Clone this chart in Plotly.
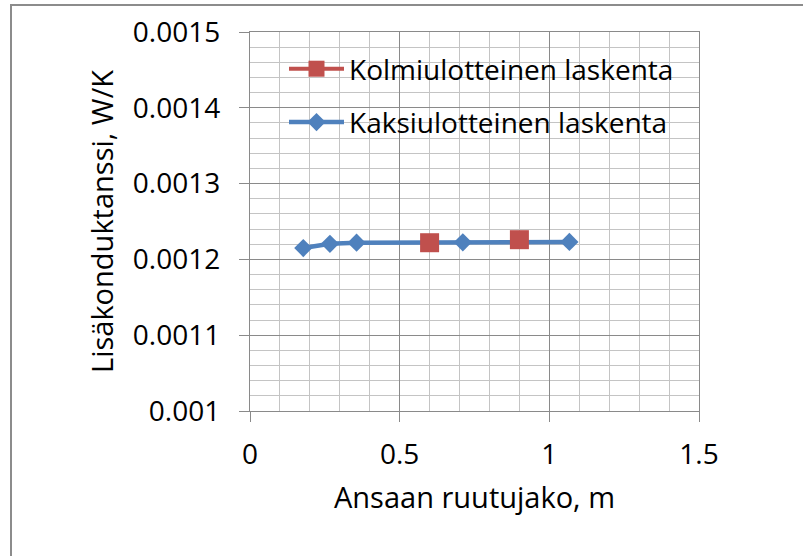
import plotly.graph_objects as go

# Data
x_2d = [0.178, 0.267, 0.356, 0.711, 1.067]
y_2d = [0.001215, 0.0012205, 0.001222, 0.0012225, 0.001223]
x_3d = [0.6, 0.9]
y_3d = [0.001222, 0.001226]

name_3d = "Kolmiulotteinen laskenta"
name_2d = "Kaksiulotteinen laskenta"

x_ticks = [0, 0.5, 1, 1.5]
x_ticklabels = ["0", "0.5", "1", "1.5"]
y_ticks = [0.001, 0.0011, 0.0012, 0.0013, 0.0014, 0.0015]
y_ticklabels = ["0.001", "0.0011", "0.0012", "0.0013", "0.0014", "0.0015"]

BLUE = "#4F81BD"
RED = "#C0504D"
FONT = "Open Sans"
MAJOR = "#8a8a8a"
MINOR = "#c4c4c4"

# plot area in page pixels
PL, PR, PT, PB = 250, 699, 32, 411
W, H = 803, 556
PW, PH = PR - PL, PB - PT


def px(x):
    return (x - PL) / PW


def py(y):
    return (PB - y) / PH


fig = go.Figure()

fig.add_trace(go.Scatter(
    x=[None], y=[None], name=name_3d, mode="lines+markers",
    line=dict(color=RED, width=4),
    marker=dict(symbol="square", size=19, color=RED),
    legendgroup="a", showlegend=True,
))
fig.add_trace(go.Scatter(
    x=x_2d, y=y_2d, name=name_2d, mode="lines+markers",
    line=dict(color=BLUE, width=4.5),
    marker=dict(symbol="diamond", size=14, color=BLUE),
    legendgroup="b", showlegend=True,
))
fig.add_trace(go.Scatter(
    x=x_3d, y=y_3d, name=name_3d, mode="markers",
    marker=dict(symbol="square", size=19, color=RED),
    legendgroup="a", showlegend=False,
))

fig.update_layout(
    width=W, height=H, autosize=False,
    margin=dict(l=PL, r=W - PR, t=PT, b=H - PB),
    paper_bgcolor="white", plot_bgcolor="white",
    font=dict(family=FONT, size=28, color="black"),
    showlegend=True,
    legend=dict(
        x=px(284), y=py(44), xanchor="left", yanchor="top",
        bgcolor="rgba(0,0,0,0)", borderwidth=0,
        font=dict(family=FONT, size=28, color="black"),
        traceorder="grouped", tracegroupgap=14,
        itemwidth=55,
    ),
    xaxis=dict(
        range=[0, 1.5], tickvals=x_ticks, ticktext=x_ticklabels,
        showgrid=True, gridcolor=MAJOR, gridwidth=1.3,
        minor=dict(dtick=0.1, showgrid=True, gridcolor=MINOR, gridwidth=1, ticks=""),
        ticks="outside", ticklen=10, tickcolor=MAJOR,
        showline=True, linecolor=MAJOR, linewidth=1.3, mirror=True,
        zeroline=False, ticklabelstandoff=8, automargin=False,
        tickfont=dict(family=FONT, size=28),
        title=dict(text="Ansaan ruutujako, m", standoff=16,
                   font=dict(family=FONT, size=29)),
    ),
    yaxis=dict(
        range=[0.001, 0.0015], tickvals=y_ticks, ticktext=y_ticklabels,
        showgrid=True, gridcolor=MAJOR, gridwidth=1.3,
        minor=dict(dtick=0.00002, showgrid=True, gridcolor=MINOR, gridwidth=1, ticks=""),
        ticks="outside", ticklen=10, tickcolor=MAJOR,
        showline=True, linecolor=MAJOR, linewidth=1.3, mirror=True,
        zeroline=False, ticklabelstandoff=13, automargin=False,
        tickfont=dict(family=FONT, size=28),
        title=dict(text="Lisäkonduktanssi, W/K", standoff=10,
                   font=dict(family=FONT, size=29)),
    ),
    shapes=[
        dict(type="rect", xref="paper", yref="paper",
             x0=px(280), x1=px(686), y0=py(153), y1=py(45),
             fillcolor="rgba(255,255,255,0.85)", line=dict(width=0),
             layer="between"),
        dict(type="rect", xref="paper", yref="paper",
             x0=px(11), x1=px(830), y0=py(600), y1=py(5),
             fillcolor="rgba(0,0,0,0)", line=dict(color="#8c8c8c", width=2),
             layer="below"),
    ],
)

fig.write_html(
    "out.html",
    config={"displayModeBar": False},
    post_script="document.body.style.margin='0';document.body.style.overflow='hidden';",
)
